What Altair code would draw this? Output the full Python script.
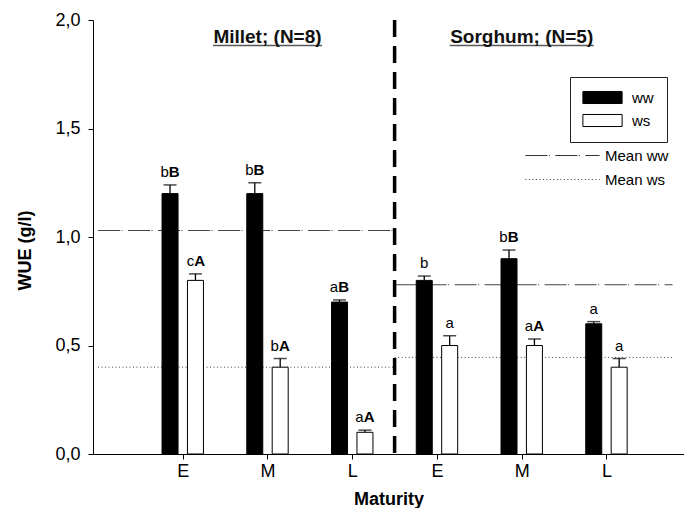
import json
import pandas as pd
import altair as alt

# ---- data ----
crops = ["Millet", "Millet", "Millet", "Sorghum", "Sorghum", "Sorghum"]
maturity = ["E", "M", "L", "E", "M", "L"]
treatments = ["ww", "ws"]
ww_values = [1.20, 1.20, 0.70, 0.80, 0.90, 0.60]
ws_values = [0.80, 0.40, 0.10, 0.50, 0.50, 0.40]
ww_upper = [1.24, 1.25, 0.71, 0.82, 0.94, 0.61]
ws_upper = [0.83, 0.44, 0.11, 0.545, 0.53, 0.44]
ww_small = ["b", "b", "a", "b", "b", "a"]
ww_caps = ["B", "B", "B", "", "B", ""]
ws_small = ["c", "b", "a", "a", "a", "a"]
ws_caps = ["A", "A", "A", "", "A", ""]

mean_crops = ["Millet", "Millet", "Sorghum", "Sorghum"]
mean_series = ["Mean ww", "Mean ws", "Mean ww", "Mean ws"]
mean_values = [1.03, 0.40, 0.78, 0.445]

panel_crops = ["Millet", "Sorghum"]
panel_titles = ["Millet; (N=8)", "Sorghum; (N=5)"]

y_ticks = [0.0, 0.5, 1.0, 1.5, 2.0]

# ---- tables ----
rows = []
for i in range(len(crops)):
    for t, vals, ups, sm, cp in [
        ("ww", ww_values, ww_upper, ww_small, ww_caps),
        ("ws", ws_values, ws_upper, ws_small, ws_caps),
    ]:
        rows.append({"slot": i + 1, "crop": crops[i], "maturity": maturity[i],
                     "trt": t, "value": vals[i], "upper": ups[i],
                     "lo": sm[i], "up": cp[i]})
df = pd.DataFrame(rows)

boundary = (max(df[df.crop == "Millet"].slot) + min(df[df.crop == "Sorghum"].slot)) / 2
last_slot = df.slot.max()

means = pd.DataFrame({"crop": mean_crops, "series": mean_series, "value": mean_values})
titles = pd.DataFrame({
    "crop": panel_crops,
    "title": panel_titles,
    "slot": [df[df.crop == c].slot.mean() for c in panel_crops],
})
divider = pd.DataFrame({"x": [boundary]})

FONT = "Liberation Sans"
xscale = alt.Scale(domain=[0, 6.856], nice=False, zero=False)
yscale = alt.Scale(domain=[0, 2], nice=False)

label_expr = json.dumps(maturity) + "[datum.value - 1]"

base = alt.Chart(df).transform_calculate(
    xpos=f"datum.slot + (datum.trt == 'ww' ? -0.15 : 0.15)"
)

x_enc = alt.X("xpos:Q", scale=xscale,
              axis=alt.Axis(values=list(range(1, len(crops) + 1)), labelExpr=label_expr,
                            title="Maturity", grid=False, tickSize=5, labelPadding=3,
                            labelFontSize=18, labelFontWeight="normal",
                            titleFontSize=18, titleFontWeight="bold",
                            titleY=50, titleBaseline="alphabetic",
                            domainColor="black", tickColor="black",
                            labelColor="black", titleColor="black"))
y_enc = alt.Y("value:Q", scale=yscale,
              axis=alt.Axis(values=y_ticks,
                            labelExpr="replace(format(datum.value, '.1f'), '.', ',')",
                            title="WUE (g/l)", grid=False, tickSize=5, labelPadding=8,
                            labelFontSize=18, titleFontSize=18, titleFontWeight="bold",
                            titleX=-63, titleY=230, titleBaseline="alphabetic",
                            domainColor="black", tickColor="black",
                            labelColor="black", titleColor="black"))

# mean lines
mean_lines = alt.Chart(means).transform_calculate(
    x0=f"datum.crop == 'Millet' ? 0 : {boundary}",
    x1=f"datum.crop == 'Millet' ? {boundary} : {last_slot + 0.78}",
).mark_rule(strokeWidth=1, color="#444").encode(
    x=alt.X("x0:Q", scale=xscale),
    x2="x1:Q",
    y=alt.Y("value:Q", scale=yscale),
    strokeDash=alt.StrokeDash(
        "series:N",
        scale=alt.Scale(domain=["Mean ww", "Mean ws"], range=[[22, 1.5, 1, 5.5], [1, 2.5]]),
        legend=alt.Legend(title=None, orient="none", legendX=462, legendY=128,
                          symbolType="M-5.3,0H5.3", symbolSize=196,
                          symbolStrokeColor="#333", symbolStrokeWidth=1,
                          symbolFillColor="transparent",
                          labelOffset=35, labelFontSize=15, labelColor="black",
                          rowPadding=8, padding=0),
    ),
)

bars = base.mark_bar(size=16, stroke="black", strokeWidth=1).encode(
    x=x_enc,
    y=y_enc,
    fill=alt.Fill(
        "trt:N",
        scale=alt.Scale(domain=treatments, range=["black", "white"]),
        legend=alt.Legend(title=None, orient="none", legendX=477, legendY=57,
                          padding=13, strokeColor="#222",
                          symbolType="M-2.8,-0.86H2.8V0.86H-2.8Z", symbolSize=196,
                          symbolOffset=12,
                          symbolStrokeColor="black", symbolStrokeWidth=1,
                          labelOffset=22, labelFontSize=15, labelColor="black",
                          rowPadding=6),
    ),
)

err_rule = base.mark_rule(color="black", strokeWidth=1.3).encode(
    x=alt.X("xpos:Q", scale=xscale), y=alt.Y("value:Q", scale=yscale), y2="upper:Q"
)
err_cap = base.mark_tick(orient="horizontal", size=13, thickness=1.5, color="black").encode(
    x=alt.X("xpos:Q", scale=xscale), y=alt.Y("upper:Q", scale=yscale)
)

lab_small_pair = base.transform_filter("datum.up != ''").mark_text(
    align="right", baseline="alphabetic", dy=-8, dx=-1.3, fontSize=15, color="black"
).encode(x=alt.X("xpos:Q", scale=xscale), y=alt.Y("upper:Q", scale=yscale), text="lo:N")
lab_caps = base.transform_filter("datum.up != ''").mark_text(
    align="left", baseline="alphabetic", dy=-8, dx=-1.3, fontSize=15,
    fontWeight="bold", color="black"
).encode(x=alt.X("xpos:Q", scale=xscale), y=alt.Y("upper:Q", scale=yscale), text="up:N")
lab_small_alone = base.transform_filter("datum.up == ''").mark_text(
    align="center", baseline="alphabetic", dy=-8, fontSize=15, color="black"
).encode(x=alt.X("xpos:Q", scale=xscale), y=alt.Y("upper:Q", scale=yscale), text="lo:N")

divider_rule = alt.Chart(divider).mark_rule(
    color="black", strokeWidth=3.5, strokeDash=[17, 9]
).encode(x=alt.X("x:Q", scale=xscale))

title_text = alt.Chart(titles).mark_text(
    fontSize=19, fontWeight="bold", baseline="alphabetic", align="center", color="#111"
).encode(x=alt.X("slot:Q", scale=xscale), y=alt.Y(datum=1.893, scale=yscale), text="title:N")

underline_m = alt.Chart(titles).transform_filter("datum.crop == 'Millet'").mark_tick(
    orient="horizontal", size=109, thickness=1.5, color="#111"
).encode(x=alt.X("slot:Q", scale=xscale), y=alt.Y(datum=1.883, scale=yscale))
underline_s = alt.Chart(titles).transform_filter("datum.crop == 'Sorghum'").mark_tick(
    orient="horizontal", size=144, thickness=1.5, color="#111"
).encode(x=alt.X("slot:Q", scale=xscale), y=alt.Y(datum=1.883, scale=yscale))

chart = alt.layer(
    mean_lines, bars, err_rule, err_cap, lab_small_pair, lab_caps, lab_small_alone,
    divider_rule, title_text, underline_m, underline_s,
).properties(
    width=591, height=434,
    autosize=alt.AutoSizeParams(type="none"),
    padding={"left": 85, "top": 12, "right": 0, "bottom": 54},
).configure(font=FONT).configure_view(stroke=None)

chart.save("out.html", embed_options={"renderer": "svg", "actions": False})
